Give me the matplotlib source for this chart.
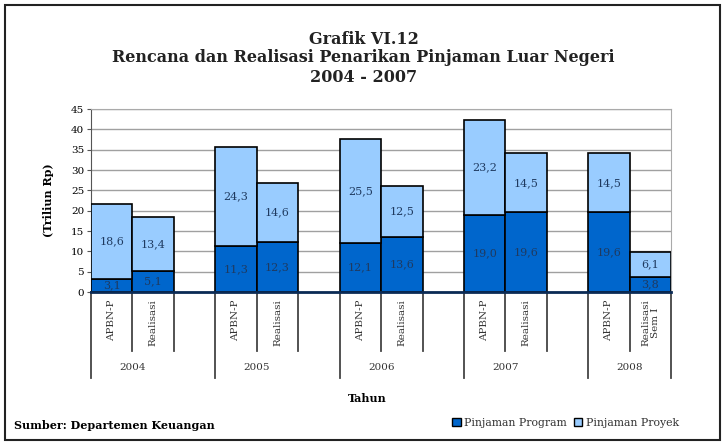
import matplotlib
matplotlib.use('Agg')
import matplotlib.pyplot as plt
import matplotlib.transforms as mtransforms
from matplotlib.patches import Rectangle, Patch

plt.rcParams['font.family'] = 'DejaVu Serif'

years = ['2004', '2005', '2006', '2007', '2008']
bar_labels = ['APBN-P', 'Realisasi', 'APBN-P', 'Realisasi', 'APBN-P', 'Realisasi',
              'APBN-P', 'Realisasi', 'APBN-P', 'Realisasi\nSem I']
program = [3.1, 5.1, 11.3, 12.3, 12.1, 13.6, 19.0, 19.6, 19.6, 3.8]
proyek = [18.6, 13.4, 24.3, 14.6, 25.5, 12.5, 23.2, 14.5, 14.5, 6.1]

dark = '#0066cc'
light = '#99ccff'
txt = '#1f3a60'

# two bars per year, one empty slot between years
pos = []
for i in range(len(years)):
    pos += [3 * i, 3 * i + 1]

fig = plt.figure(figsize=(7.27, 4.44), dpi=100)
ax = fig.add_axes([0.1252, 0.3423, 0.798, 0.4122])

ax.bar(pos, program, width=1.0, color=dark, edgecolor='black', linewidth=1.2, zorder=3)
ax.bar(pos, proyek, bottom=program, width=1.0, color=light, edgecolor='black', linewidth=1.2, zorder=3)

def fmt(v):
    return ('%.1f' % v).replace('.', ',')

for x, a, b in zip(pos, program, proyek):
    ax.text(x, a / 2, fmt(a), ha='center', va='center', fontsize=8, color=txt, zorder=4)
    ax.text(x, a + b / 2, fmt(b), ha='center', va='center', fontsize=8, color=txt, zorder=4)

ax.set_xlim(-0.5, 13.5)
ax.set_ylim(0, 45)
ax.set_yticks(range(0, 50, 5))
ax.tick_params(axis='y', labelsize=7.5, length=3, color='#555555', pad=2)
ax.set_xticks([])
ax.yaxis.grid(True, color='#a0a0a0', linewidth=1.0, zorder=0)
ax.set_axisbelow(True)
for s in ['top', 'right']:
    ax.spines[s].set_color('#aaaaaa')
ax.spines['left'].set_color('#555555')
ax.spines['bottom'].set_color('#0a2a55')
ax.spines['bottom'].set_linewidth(2)
ax.spines['bottom'].set_zorder(5)

ax.set_ylabel('(Triliun Rp)', fontsize=8, fontweight='bold', labelpad=12)

# category axis below the plot
trans = mtransforms.blended_transform_factory(ax.transData, ax.transAxes)
for i, yr in enumerate(years):
    x0 = 3 * i - 0.5
    ax.plot([x0, x0], [0, -0.47], transform=trans, color='#444444', lw=1.3, clip_on=False)
    ax.plot([x0 + 1, x0 + 1], [0, -0.32], transform=trans, color='#444444', lw=1.3, clip_on=False)
    end_len = -0.47 if i == len(years) - 1 else -0.32
    ax.plot([x0 + 2, x0 + 2], [0, end_len], transform=trans, color='#444444', lw=1.3, clip_on=False)
    ax.text(3 * i + 0.5, -0.415, yr, transform=trans, ha='center', va='center',
            fontsize=7.5, color='#333333')
for x, lab in zip(pos, bar_labels):
    ax.text(x, -0.04, lab, transform=trans, ha='center', va='top', rotation=90,
            fontsize=7.5, color='#333333', linespacing=1.1)

fig.text(0.505, 1 - 398 / 444, 'Tahun', ha='center', va='center', fontsize=8, fontweight='bold')

# titles
fig.text(0.5, 1 - 39 / 444, 'Grafik VI.12', ha='center', va='center', fontsize=11.5, fontweight='bold', color='#222222')
fig.text(0.5, 1 - 57 / 444, 'Rencana dan Realisasi Penarikan Pinjaman Luar Negeri', ha='center', va='center',
         fontsize=11.5, fontweight='bold', color='#222222')
fig.text(0.5, 1 - 77 / 444, '2004 - 2007', ha='center', va='center', fontsize=11.5, fontweight='bold', color='#222222')

fig.text(14 / 727, 1 - 425 / 444, 'Sumber: Departemen Keuangan', ha='left', va='center', fontsize=8, fontweight='bold')

handles = [Patch(facecolor=dark, edgecolor='black', label='Pinjaman Program'),
           Patch(facecolor=light, edgecolor='black', label='Pinjaman Proyek')]
fig.legend(handles=handles, loc='center right', bbox_to_anchor=(683 / 727, 1 - 423 / 444), ncol=2,
           frameon=False, fontsize=7.8, handlelength=0.8, handleheight=0.8, handletextpad=0.3,
           columnspacing=0.6, borderaxespad=0, labelcolor='#333333')

fig.patches.append(Rectangle((5 / 727, 4 / 444), 715 / 727, 435 / 444, transform=fig.transFigure,
                             fill=False, edgecolor='#222222', linewidth=1.5))

fig.savefig('out.png', dpi=100)
